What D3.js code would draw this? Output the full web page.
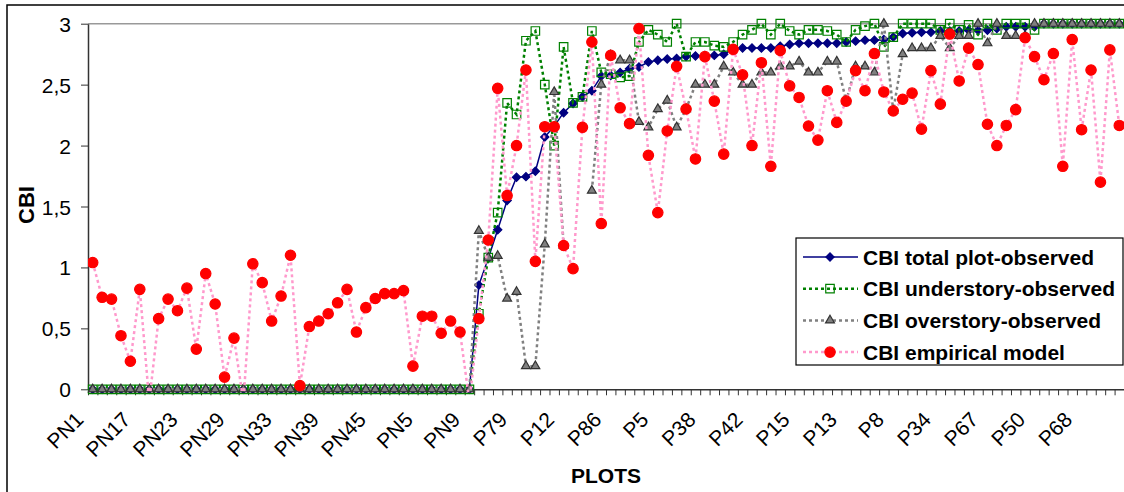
<!DOCTYPE html>
<html>
<head>
<meta charset="utf-8">
<script src="https://cdn.jsdelivr.net/npm/d3@7/dist/d3.min.js"></script>
<style>
body { margin: 0; background: #fff; }
text { font-family: "Liberation Sans", Arial, sans-serif; fill: #000; }
</style>
</head>
<body>
<script>
// one label every 5th plot, as in the original axis
var plotLabels = ["PN1", "PN17", "PN23", "PN29", "PN33", "PN39", "PN45", "PN5", "PN9", "P79", "P12",
                  "P86", "P5", "P38", "P42", "P15", "P13", "P8", "P34", "P67", "P50", "P68"];
var labelStep = 5;
var yTicks = [0, 0.5, 1, 1.5, 2, 2.5, 3];

var totalObs = [0, 0, 0, 0, 0, 0, 0, 0, 0, 0, 0, 0, 0, 0, 0, 0, 0, 0, 0, 0, 0, 0, 0, 0, 0, 0, 0, 0, 0, 0, 0, 0, 0, 0, 0, 0, 0, 0, 0, 0, 0,
  0.855, 1.075, 1.31, 1.55, 1.74, 1.745, 1.79, 2.07, 2.16, 2.27, 2.345, 2.40, 2.45, 2.57, 2.575, 2.60, 2.63, 2.645, 2.685, 2.70,
  2.71, 2.715, 2.73, 2.735, 2.74, 2.74, 2.75, 2.79, 2.80, 2.80, 2.80, 2.80, 2.815, 2.83, 2.84, 2.84, 2.84, 2.84, 2.84, 2.85,
  2.857, 2.865, 2.865, 2.87, 2.89, 2.92, 2.925, 2.93, 2.93, 2.94, 2.94, 2.94, 2.947, 2.947, 2.947, 2.96, 2.975, 2.975, 2.975, 2.975,
  3, 3, 3, 3, 3, 3, 3, 3, 3];

var underObs = [0, 0, 0, 0, 0, 0, 0, 0, 0, 0, 0, 0, 0, 0, 0, 0, 0, 0, 0, 0, 0, 0, 0, 0, 0, 0, 0, 0, 0, 0, 0, 0, 0, 0, 0, 0, 0, 0, 0, 0, 0,
  0.62, 1.08, 1.45, 2.35, 2.255, 2.86, 2.94, 2.50, 2.00, 2.81, 2.35, 2.40, 2.94, 2.60, 2.585, 2.56, 2.57, 2.85, 2.95, 2.91,
  2.85, 3, 2.73, 2.85, 2.85, 2.82, 2.81, 2.85, 2.91, 2.95, 3, 2.91, 3, 2.94, 2.91, 2.95, 2.95, 2.94, 2.91, 2.85,
  2.95, 2.98, 3, 2.81, 2.89, 3, 3, 3, 3, 2.95, 3, 2.95, 2.99, 2.91, 3, 2.95, 3, 3, 3, 2.95,
  3, 3, 3, 3, 3, 3, 3, 3, 3];

var overObs = [0, 0, 0, 0, 0, 0, 0, 0, 0, 0, 0, 0, 0, 0, 0, 0, 0, 0, 0, 0, 0, 0, 0, 0, 0, 0, 0, 0, 0, 0, 0, 0, 0, 0, 0, 0, 0, 0, 0, 0, 0,
  1.30, 1.08, 1.095, 0.745, 0.80, 0.19, 0.19, 1.19, 2.44, 1.18, null, null, 1.63, 2.50, 2.74, 2.70, 2.70, 2.195, 2.15, 2.30,
  2.37, 2.15, 2.30, 2.50, 2.50, 2.50, 2.65, 2.60, 2.50, 2.50, 2.60, 2.60, 2.65, 2.65, 2.69, 2.60, 2.60, 2.69, 2.69, 2.365,
  2.65, 2.65, 2.60, 3, 2.285, 2.75, 2.80, 2.80, 2.80, 2.90, 2.80, 2.90, 2.90, 3, 2.84, 3, 2.90, 2.90, 2.90, 3,
  3, 3, 3, 3, 3, 3, 3, 3, 3];

// a few model values fall below 0 and are cut off by the axis
var empirical = [1.04, 0.755, 0.74, 0.44, 0.23, 0.82, -0.1, 0.58, 0.74, 0.645, 0.83, 0.33, 0.95, 0.70, 0.10, 0.42, -0.1, 1.03, 0.875, 0.56,
  0.765, 1.10, 0.03, 0.515, 0.56, 0.62, 0.71, 0.82, 0.47, 0.67, 0.745, 0.785, 0.785, 0.81, 0.19, 0.60, 0.60, 0.46, 0.56, 0.47, -0.1,
  0.58, 1.225, 2.47, 1.59, 2.0, 2.62, 1.05, 2.155, 2.155, 1.18, 0.99, 2.15, 2.85, 1.36, 2.74, 2.31, 2.18, 2.96, 1.92, 1.45,
  2.12, 2.65, 2.30, 1.89, 2.73, 2.365, 1.93, 2.79, 2.58, 2.00, 2.68, 1.83, 2.78, 2.49, 2.395, 2.16, 2.045, 2.45, 2.19, 2.365,
  2.615, 2.45, 2.755, 2.44, 2.285, 2.38, 2.43, 2.135, 2.615, 2.34, 2.915, 2.53, 2.80, 2.665, 2.175, 2.00, 2.165, 2.295, 2.885, 2.73,
  2.54, 2.755, 1.83, 2.87, 2.13, 2.62, 1.70, 2.785, 2.165];

var seriesNames = ["CBI total plot-observed", "CBI understory-observed", "CBI overstory-observed", "CBI empirical model"];

function drawChart()
{
    var width = 1124, height = 492;
    var left = 88, right = 1124, top = 23.7, bottom = 389.3;

    var svg = d3.select("body").append("svg")
        .attr("width", width)
        .attr("height", height);

    // outer chart border (cut by the picture on the right and bottom)
    svg.append("rect")
        .attr("x", 7).attr("y", 5)
        .attr("width", width).attr("height", height)
        .attr("fill", "#fff").attr("stroke", "#000").attr("stroke-width", 1.5);

    var x = d3.scaleBand().domain(d3.range(totalObs.length)).range([left, right]);
    var xEdge = d3.scaleLinear().domain([0, totalObs.length]).range([left, right]);
    var y = d3.scaleLinear().domain([0, 3]).range([bottom, top]);
    var cx = function(i) { return x(i) + x.bandwidth() / 2; };

    svg.append("defs").append("clipPath").attr("id", "plotclip")
        .append("rect").attr("x", left).attr("y", 0).attr("width", right - left).attr("height", bottom + 3);

    // plot area top border
    svg.append("line")
        .attr("x1", left).attr("x2", right).attr("y1", top).attr("y2", top)
        .attr("stroke", "#999").attr("stroke-width", 1.5);

    // y axis
    var yAxis = svg.append("g")
        .attr("transform", "translate(" + left + ",0)")
        .call(d3.axisLeft(y).tickValues(yTicks).tickSize(7).tickPadding(10).tickSizeOuter(0)
            .tickFormat(function(d) { return String(d).replace(".", ","); }));
    yAxis.selectAll("text").style("font-size", "21px").attr("dy", "0.36em");

    // x axis, ticks between plots
    svg.append("g")
        .attr("transform", "translate(0," + bottom + ")")
        .call(d3.axisBottom(xEdge).tickValues(d3.range(0, totalObs.length + 1)).tickSize(6)
            .tickFormat("").tickSizeOuter(0));
    svg.selectAll(".domain").attr("stroke", "#333").attr("stroke-width", 1.5);
    svg.selectAll(".tick line").attr("stroke", "#333");

    svg.append("g").selectAll("text")
        .data(plotLabels)
        .enter()
        .append("text")
        .attr("text-anchor", "end")
        .style("font-size", "21px")
        .attr("transform", function(d, k) {
            return "translate(" + (cx(k * labelStep) - 8) + "," + 421 + ") rotate(-45)";
        })
        .text(function(d) { return d; });

    // axis titles
    svg.append("text")
        .attr("transform", "translate(34,205) rotate(-90)")
        .attr("text-anchor", "middle")
        .style("font-size", "22px").style("font-weight", "bold")
        .text("CBI");
    svg.append("text")
        .attr("x", 606).attr("y", 483)
        .attr("text-anchor", "middle")
        .style("font-size", "21px").style("font-weight", "bold")
        .text("PLOTS");

    var series = [
        { values: totalObs, line: "#000080", width: 1.5, dash: null,
          symbol: d3.symbolSquare, size: 34, rotate: 45, fill: "#000080", stroke: "#000080" },
        { values: underObs, line: "#008000", width: 2.5, dash: "3,3",
          symbol: d3.symbolSquare, size: 72, rotate: 0, fill: "none", stroke: "#008000" },
        { values: overObs, line: "#808080", width: 2.5, dash: "3,3",
          symbol: d3.symbolTriangle, size: 34, rotate: 0, fill: "#808080", stroke: "#333" },
        { values: empirical, line: "#ff99cc", width: 2.5, dash: "3,3",
          symbol: d3.symbolCircle, size: 85, rotate: 0, fill: "#ff0000", stroke: "#ff0000" }
    ];

    series.forEach(function(s, si) {
        var g = svg.append("g");
        if (si == 3) g.attr("clip-path", "url(#plotclip)");

        var line = d3.line()
            .defined(function(d) { return d != null; })
            .x(function(d, i) { return cx(i); })
            .y(function(d) { return y(d); });

        g.append("path")
            .attr("d", line(s.values))
            .attr("fill", "none")
            .attr("stroke", s.line)
            .attr("stroke-width", s.width)
            .attr("stroke-dasharray", s.dash);

        var pts = s.values.map(function(v, i) { return { i: i, v: v }; })
            .filter(function(p) { return p.v != null; });

        g.selectAll("path.mk")
            .data(pts)
            .enter()
            .append("path")
            .attr("class", "mk")
            .attr("d", d3.symbol().type(s.symbol).size(s.size))
            .attr("transform", function(p) {
                return "translate(" + cx(p.i) + "," + y(p.v) + ") rotate(" + s.rotate + ")";
            })
            .attr("fill", s.fill)
            .attr("stroke", s.stroke)
            .attr("stroke-width", 1.2);
    });

    // legend
    var lg = svg.append("g");
    lg.append("rect")
        .attr("x", 796).attr("y", 238)
        .attr("width", 327).attr("height", 127)
        .attr("fill", "#fff").attr("stroke", "#000").attr("stroke-width", 1.2);

    series.forEach(function(s, si) {
        var ry = 257 + si * 31.7;
        lg.append("line")
            .attr("x1", 803).attr("x2", 858).attr("y1", ry).attr("y2", ry)
            .attr("stroke", s.line).attr("stroke-width", s.width)
            .attr("stroke-dasharray", s.dash);
        lg.append("path")
            .attr("d", d3.symbol().type(s.symbol).size(s.size))
            .attr("transform", "translate(830," + ry + ") rotate(" + s.rotate + ")")
            .attr("fill", s.fill)
            .attr("stroke", s.stroke)
            .attr("stroke-width", 1.2);
        lg.append("text")
            .attr("x", 863).attr("y", ry + 7.5)
            .style("font-size", "21px").style("font-weight", "bold")
            .text(seriesNames[si]);
    });
}
window.onload = drawChart;
</script>
</body>
</html>
